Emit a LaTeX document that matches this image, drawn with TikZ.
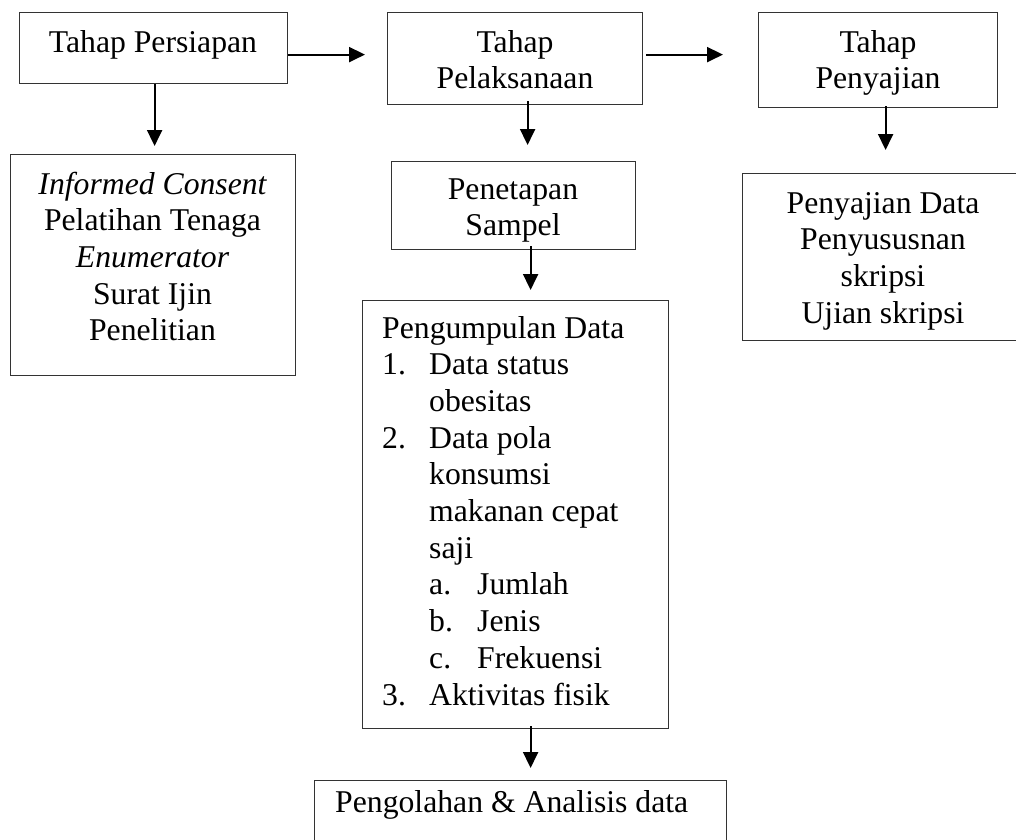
\documentclass[tikz,border=0pt]{standalone}
\usepackage{fontspec}
\setmainfont{Liberation Serif}
\usetikzlibrary{arrows.meta,calc}
\newcommand\mlines[1]{\begin{tabular}[t]{@{}c@{}}#1\end{tabular}}
\newcommand\llines[1]{\begin{tabular}[t]{@{}l@{}}#1\end{tabular}}
\begin{document}
\begin{tikzpicture}[x=1pt,y=-1pt,
  box/.style={draw=black!80, line width=1.2pt, rectangle, anchor=north west, inner sep=0pt},
  txt/.style={anchor=base, inner sep=0pt, font=\fontsize{31.7}{36.7}\selectfont},
  ltxt/.style={txt, anchor=base west},
  arr/.style={line width=2pt, -{Triangle[width=15pt,length=16pt]}}]
\useasboundingbox (0,0) rectangle (1016,839);
\clip (0,0) rectangle (1016,839);
% boxes
\node[box, minimum width=268pt, minimum height=71pt]  (A) at (19,12) {};
\node[box, minimum width=285pt, minimum height=221pt] (C) at (10,154) {};
\node[box, minimum width=255pt, minimum height=92pt]  (B) at (387,12) {};
\node[box, minimum width=244pt, minimum height=88pt]  (P) at (391,161) {};
\node[box, minimum width=306pt, minimum height=428pt] (G) at (362,300) {};
\node[box, minimum width=412pt, minimum height=90pt]  (F) at (314,780) {};
\node[box, minimum width=239pt, minimum height=95pt]  (D) at (758,12) {};
\node[box, minimum width=290pt, minimum height=167pt] (E) at (742,173) {};
% texts
\node[txt] (tA) at (153,52) {Tahap Persiapan};
\node[txt] (tC) at (152.5,194) {\mlines{\itshape Informed Consent\\ Pelatihan Tenaga\\ \itshape Enumerator\\ Surat Ijin\\ Penelitian}};
\node[txt] (tB) at (515,52) {\mlines{Tahap\\ Pelaksanaan}};
\node[txt] (tP) at (513,199) {\mlines{Penetapan\\ Sampel}};
\node[ltxt] (tG) at (382,338) {\llines{Pengumpulan Data\\
\makebox[47pt][l]{1.}Data status\\
\hspace*{47pt}obesitas\\
\makebox[47pt][l]{2.}Data pola\\
\hspace*{47pt}konsumsi\\
\hspace*{47pt}makanan cepat\\
\hspace*{47pt}saji\\
\hspace*{47pt}\makebox[48pt][l]{a.}Jumlah\\
\hspace*{47pt}\makebox[48pt][l]{b.}Jenis\\
\hspace*{47pt}\makebox[48pt][l]{c.}Frekuensi\\
\makebox[47pt][l]{3.}Aktivitas fisik}};
\node[ltxt] (tF) at (335,812) {Pengolahan \& Analisis data};
\node[txt] (tD) at (878,52) {\mlines{Tahap\\ Penyajian}};
\node[txt] (tE) at (883,213) {\mlines{Penyajian Data\\ Penyususnan\\ skripsi\\ Ujian skripsi}};
% arrows
\draw[arr, shorten >=22pt] ([yshift=-6.5pt]A.east) -- ([yshift=-6.5pt]A.east -| B.west);
\draw[arr, shorten <=3pt, shorten >=35pt] ([yshift=4pt]B.east) -- ([yshift=4pt]B.east -| D.west);
\draw[arr, shorten >=8pt] ([xshift=1pt]A.south) -- ([xshift=1pt]A.south |- C.north);
\draw[arr, shorten <=-4pt, shorten >=16pt] ([xshift=12.5pt]B.south) -- ([xshift=12.5pt]B.south |- P.north);
\draw[arr, shorten <=-4pt, shorten >=10pt] ([xshift=17pt]P.south) -- ([xshift=17pt]P.south |- G.north);
\draw[arr, shorten <=-3pt, shorten >=12pt] ([xshift=15pt]G.south) -- ([xshift=15pt]G.south |- F.north);
\draw[arr, shorten <=-2pt, shorten >=23pt] ([xshift=7.5pt]D.south) -- ([xshift=7.5pt]D.south |- E.north);
\end{tikzpicture}
\end{document}
